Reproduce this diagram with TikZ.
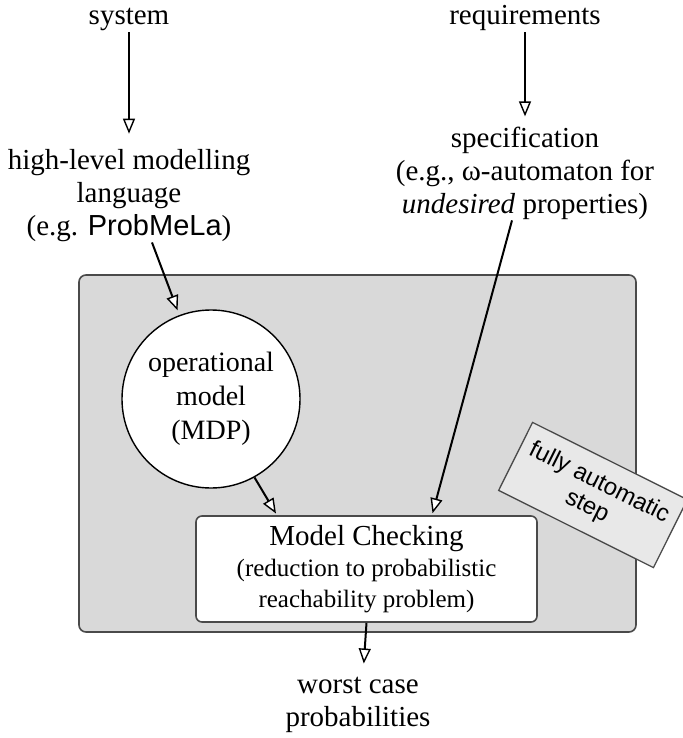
\documentclass[tikz,border=0pt]{standalone}
\usepackage{fontspec}
\setmainfont{Liberation Serif}
\newfontfamily\sansf{Liberation Sans}
\usetikzlibrary{arrows.meta}
\definecolor{bggray}{HTML}{D9D9D9}
\definecolor{lblgray}{HTML}{E8E8E8}
\definecolor{edgegray}{HTML}{4A4A4A}
\begin{document}
\begin{tikzpicture}[x=1pt, y=-1pt,
  txt/.style={inner sep=1pt, align=center, font=\fontsize{29}{33}\selectfont},
  conn/.style={line width=2pt, -{Triangle[length=15pt,width=12pt,fill=white,line width=1.4pt]}},
]
\useasboundingbox (0,0) rectangle (682,738);
\fill[white] (0,0) rectangle (682,738);

% grey automatic area
\node[draw=edgegray, line width=1.6pt, fill=bggray, rounded corners=7pt,
      minimum width=557pt, minimum height=357pt, inner sep=0] (area) at (357.5,453.5) {};

% texts outside (base = baseline of last line)
\node[txt, anchor=base] (sys) at (129,25) {system};
\node[txt, anchor=base] (req) at (525,25) {requirements};
\node[txt, anchor=base] (hl) at (129,235) {high-level modelling\\language\\(e.g. {\sansf ProbMeLa})};
\node[txt, anchor=base] (spec) at (525,213) {specification\\(e.g., ω-automaton for\\\textit{undesired} properties)};
\node[txt, anchor=base] (worst) at (358,726) {worst case\\probabilities};

% operational model
\node[circle, draw, line width=1.4pt, fill=white, minimum size=178pt, inner sep=0,
      align=center, font=\fontsize{28}{34}\selectfont] (circ) at (211,399) {operational\\model\\(MDP)};

% model checking box
\node[draw=edgegray, line width=1.6pt, fill=white, rounded corners=6pt,
      minimum width=341pt, minimum height=106pt, inner sep=0, align=center,
      font=\fontsize{25}{31}\selectfont] (mc) at (366.5,569)
      {{\fontsize{29}{31}\selectfont Model Checking}\\(reduction to probabilistic\\reachability problem)};

% label
\node[draw=edgegray, line width=1.3pt, fill=lblgray, minimum width=173pt, minimum height=76pt,
      inner sep=0, rotate=-26.5, align=center, font=\sansf\fontsize{24}{27}\selectfont]
      (lbl) at (593,495) {fully automatic\\step};

% connectors
\draw[conn, shorten >=14pt] (sys) -- (hl);
\draw[conn, shorten >=9pt] (req) -- (spec);
\draw[conn, shorten >=5pt] ([xshift=23pt]hl.south) -- (circ);
\draw[conn, shorten >=2pt] ([xshift=-13pt]spec.south) -- ([xshift=65.5pt]mc.north);
\draw[conn, shorten >=2pt] (circ.-61) -- ([xshift=-89.5pt]mc.north);
\draw[conn, shorten >=12pt] (mc.south) -- ([xshift=5pt]worst.north);
\end{tikzpicture}
\end{document}
